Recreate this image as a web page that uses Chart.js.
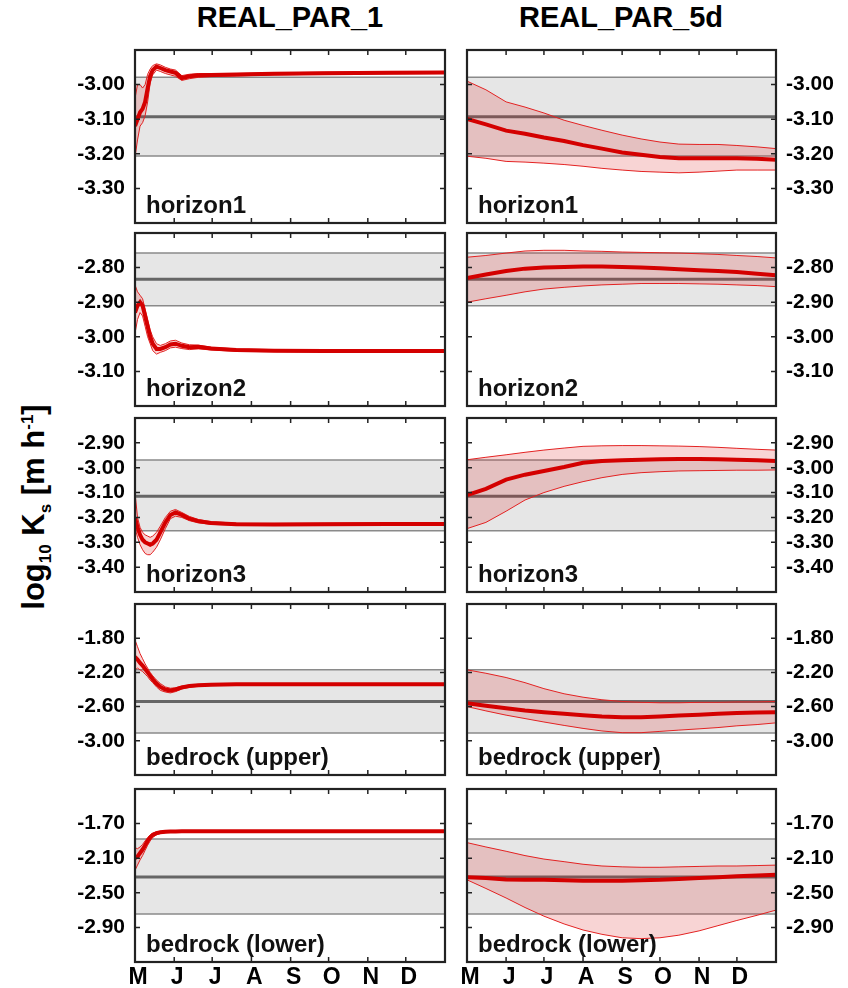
<!DOCTYPE html>
<html>
<head>
<meta charset="utf-8">
<script src="https://cdn.jsdelivr.net/npm/chart.js@4.4.1/dist/chart.umd.min.js"></script>
<style>
  body { margin:0; background:#fff; width:848px; height:988px; position:relative; overflow:hidden;
         font-family:"Liberation Sans", Arial, sans-serif; }
  canvas { position:absolute; }
  .coltitle { position:absolute; top:1px; font-weight:bold; font-size:29px; transform:translateX(-50%); white-space:nowrap; }
  #ylab { position:absolute; left:36px; top:507px; font-weight:bold; font-size:31px; white-space:nowrap;
          transform:translate(-50%,-50%) rotate(-90deg); }
  #ylab sub, #ylab sup { font-size:17px; }
</style>
</head>
<body>
<div class="coltitle" style="left:290px">REAL_PAR_1</div>
<div class="coltitle" style="left:621px">REAL_PAR_5d</div>
<div id="ylab">log<sub>10</sub> K<sub>s</sub> [m h<sup>-1</sup>]</div>
<script>
// x axis: days since 1 May
const months = ['M','J','J','A','S','O','N','D',''];
const monthStarts = [0,31,61,92,123,153,184,214,245];
const leftDays  = [0,2,4,6,8,10,12,14,17,20,24,28,32,37,43,50,60,80,110,150,200,245];
const rightDays = [0,15,31,46,61,77,92,107,123,138,153,168,184,199,214,230,245];

const panelNames = ['horizon1','horizon2','horizon3','bedrock (upper)','bedrock (lower)'];

// y ranges and tick values
const yRangeH1 = [-3.4,-2.9], yTicksH1 = [-3.3,-3.2,-3.1,-3.0];
const yRangeH2 = [-3.2,-2.7], yTicksH2 = [-3.1,-3.0,-2.9,-2.8];
const yRangeH3 = [-3.5,-2.8], yTicksH3 = [-3.4,-3.3,-3.2,-3.1,-3.0,-2.9];
const yRangeH4 = [-3.4,-1.4], yTicksH4 = [-3.0,-2.6,-2.2,-1.8];
const yRangeH5 = [-3.3,-1.3], yTicksH5 = [-2.9,-2.5,-2.1,-1.7];

// prior band: [low, centre, high]
const bandH1 = [-3.206,-3.093,-2.979];
const bandH2 = [-2.91,-2.834,-2.758];
const bandH3 = [-3.254,-3.115,-2.969];
const bandH4 = [-2.91,-2.54,-2.17];
const bandH5 = [-2.745,-2.317,-1.878];

// REAL_PAR_1
const h1LMean = [-3.12,-3.10,-3.08,-3.07,-3.05,-3.01,-2.975,-2.958,-2.948,-2.952,-2.958,-2.962,-2.966,-2.981,-2.976,-2.973,-2.972,-2.971,-2.969,-2.967,-2.966,-2.965];
const h1LHi   = [-3.04,-3.00,-3.00,-3.01,-3.00,-2.97,-2.955,-2.945,-2.940,-2.943,-2.950,-2.955,-2.958,-2.974,-2.970,-2.968,-2.968,-2.968,-2.966,-2.964,-2.963,-2.962];
const h1LLo   = [-3.21,-3.16,-3.12,-3.11,-3.09,-3.05,-2.995,-2.972,-2.958,-2.962,-2.968,-2.972,-2.976,-2.988,-2.983,-2.979,-2.977,-2.975,-2.972,-2.970,-2.969,-2.968];

const h2LMean = [-2.93,-2.91,-2.90,-2.91,-2.94,-2.97,-3.00,-3.02,-3.035,-3.035,-3.03,-3.022,-3.02,-3.026,-3.03,-3.029,-3.034,-3.038,-3.04,-3.041,-3.041,-3.041];
const h2LHi   = [-2.85,-2.87,-2.88,-2.89,-2.92,-2.95,-2.98,-3.00,-3.02,-3.025,-3.02,-3.012,-3.01,-3.018,-3.023,-3.024,-3.03,-3.035,-3.037,-3.038,-3.038,-3.038];
const h2LLo   = [-2.99,-2.95,-2.93,-2.94,-2.97,-3.00,-3.02,-3.04,-3.05,-3.045,-3.04,-3.032,-3.03,-3.034,-3.037,-3.035,-3.038,-3.042,-3.043,-3.044,-3.044,-3.044];

const h3LMean = [-3.20,-3.24,-3.27,-3.29,-3.30,-3.305,-3.31,-3.305,-3.29,-3.26,-3.22,-3.19,-3.18,-3.19,-3.205,-3.215,-3.222,-3.227,-3.228,-3.227,-3.226,-3.226];
const h3LHi   = [-3.10,-3.20,-3.24,-3.26,-3.27,-3.275,-3.28,-3.275,-3.26,-3.235,-3.20,-3.175,-3.168,-3.18,-3.196,-3.208,-3.217,-3.223,-3.224,-3.223,-3.222,-3.222];
const h3LLo   = [-3.24,-3.28,-3.31,-3.33,-3.345,-3.35,-3.35,-3.34,-3.32,-3.29,-3.245,-3.205,-3.195,-3.20,-3.213,-3.222,-3.228,-3.231,-3.232,-3.231,-3.23,-3.23];

const h4LMean = [-2.02,-2.05,-2.09,-2.12,-2.16,-2.20,-2.24,-2.28,-2.33,-2.37,-2.40,-2.41,-2.40,-2.375,-2.36,-2.35,-2.345,-2.34,-2.34,-2.34,-2.34,-2.34];
const h4LHi   = [-1.82,-1.90,-1.98,-2.04,-2.10,-2.15,-2.20,-2.24,-2.29,-2.33,-2.37,-2.385,-2.38,-2.36,-2.348,-2.34,-2.336,-2.332,-2.332,-2.332,-2.332,-2.332];
const h4LLo   = [-2.17,-2.15,-2.17,-2.19,-2.22,-2.25,-2.29,-2.32,-2.37,-2.41,-2.43,-2.44,-2.425,-2.395,-2.375,-2.362,-2.354,-2.348,-2.348,-2.348,-2.348,-2.348];

const h5LMean = [-2.10,-2.08,-2.04,-2.00,-1.95,-1.90,-1.86,-1.83,-1.81,-1.80,-1.795,-1.792,-1.79,-1.789,-1.789,-1.788,-1.788,-1.788,-1.788,-1.788,-1.788,-1.788];
const h5LHi   = [-1.98,-1.99,-1.97,-1.94,-1.90,-1.86,-1.83,-1.81,-1.795,-1.79,-1.787,-1.785,-1.784,-1.783,-1.783,-1.783,-1.783,-1.783,-1.783,-1.783,-1.783,-1.783];
const h5LLo   = [-2.24,-2.18,-2.12,-2.07,-2.01,-1.95,-1.90,-1.86,-1.83,-1.815,-1.805,-1.80,-1.797,-1.795,-1.795,-1.794,-1.794,-1.794,-1.794,-1.794,-1.794,-1.794];

// REAL_PAR_5d
const h1RMean = [-3.099,-3.115,-3.133,-3.142,-3.153,-3.163,-3.175,-3.185,-3.196,-3.203,-3.209,-3.213,-3.213,-3.213,-3.213,-3.214,-3.217];
const h1RHi   = [-2.99,-3.015,-3.05,-3.065,-3.082,-3.103,-3.118,-3.132,-3.146,-3.157,-3.166,-3.172,-3.173,-3.173,-3.176,-3.18,-3.185];
const h1RLo   = [-3.207,-3.213,-3.222,-3.224,-3.227,-3.231,-3.236,-3.242,-3.247,-3.251,-3.253,-3.255,-3.253,-3.25,-3.247,-3.247,-3.247];

const h2RMean = [-2.83,-2.82,-2.81,-2.803,-2.80,-2.798,-2.797,-2.797,-2.798,-2.80,-2.802,-2.805,-2.808,-2.81,-2.813,-2.818,-2.822];
const h2RHi   = [-2.77,-2.765,-2.758,-2.752,-2.75,-2.75,-2.752,-2.753,-2.755,-2.756,-2.757,-2.758,-2.76,-2.762,-2.765,-2.768,-2.772];
const h2RLo   = [-2.90,-2.89,-2.88,-2.87,-2.862,-2.857,-2.853,-2.85,-2.848,-2.846,-2.846,-2.846,-2.847,-2.848,-2.85,-2.852,-2.855];

const h3RMean = [-3.11,-3.085,-3.048,-3.028,-3.013,-2.997,-2.98,-2.973,-2.97,-2.968,-2.966,-2.965,-2.965,-2.966,-2.968,-2.97,-2.973];
const h3RHi   = [-2.968,-2.958,-2.948,-2.938,-2.929,-2.921,-2.914,-2.912,-2.911,-2.911,-2.912,-2.913,-2.915,-2.918,-2.922,-2.926,-2.929];
const h3RLo   = [-3.245,-3.22,-3.175,-3.13,-3.10,-3.075,-3.056,-3.04,-3.027,-3.02,-3.016,-3.013,-3.012,-3.011,-3.01,-3.01,-3.009];

const h4RMean = [-2.56,-2.59,-2.62,-2.645,-2.665,-2.685,-2.70,-2.715,-2.725,-2.725,-2.715,-2.705,-2.695,-2.685,-2.675,-2.67,-2.665];
const h4RHi   = [-2.17,-2.21,-2.26,-2.32,-2.39,-2.45,-2.49,-2.52,-2.54,-2.55,-2.555,-2.555,-2.55,-2.55,-2.545,-2.545,-2.54];
const h4RLo   = [-2.60,-2.65,-2.70,-2.74,-2.78,-2.82,-2.855,-2.885,-2.905,-2.905,-2.89,-2.875,-2.86,-2.845,-2.825,-2.81,-2.79];

const h5RMean = [-2.32,-2.33,-2.345,-2.35,-2.35,-2.355,-2.36,-2.36,-2.36,-2.355,-2.35,-2.34,-2.33,-2.32,-2.31,-2.30,-2.29];
const h5RHi   = [-1.92,-1.97,-2.02,-2.07,-2.11,-2.14,-2.17,-2.19,-2.20,-2.205,-2.205,-2.20,-2.195,-2.19,-2.19,-2.185,-2.18];
const h5RLo   = [-2.35,-2.45,-2.56,-2.67,-2.77,-2.86,-2.93,-2.98,-3.02,-3.03,-3.02,-2.99,-2.94,-2.88,-2.82,-2.76,-2.70];

// ---- layout ----
Chart.defaults.font.family = '"Liberation Sans", Arial, sans-serif';
Chart.defaults.color = '#000';

const panelTops    = [50, 233, 418, 604, 789];
const panelBottoms = [223, 406, 592, 775, 962];
const V_PAD = 30, X_AXIS_H = 40;
const LEFT  = { canvasLeft: 0,   width: 455, padL: 0,  padR: 10, yPos: 'left',  yWidth: 135, days: leftDays };
const RIGHT = { canvasLeft: 447, width: 401, padL: 20, padR: 0,  yPos: 'right', yWidth: 72,  days: rightDays };

const rows = [
  { range: yRangeH1, ticks: yTicksH1, band: bandH1, left: [h1LLo,h1LMean,h1LHi], right: [h1RLo,h1RMean,h1RHi] },
  { range: yRangeH2, ticks: yTicksH2, band: bandH2, left: [h2LLo,h2LMean,h2LHi], right: [h2RLo,h2RMean,h2RHi] },
  { range: yRangeH3, ticks: yTicksH3, band: bandH3, left: [h3LLo,h3LMean,h3LHi], right: [h3RLo,h3RMean,h3RHi] },
  { range: yRangeH4, ticks: yTicksH4, band: bandH4, left: [h4LLo,h4LMean,h4LHi], right: [h4RLo,h4RMean,h4RHi] },
  { range: yRangeH5, ticks: yTicksH5, band: bandH5, left: [h5LLo,h5LMean,h5LHi], right: [h5RLo,h5RMean,h5RHi] },
];

// frame, inward tick marks and the panel name
const panelDeco = {
  id: 'panelDeco',
  afterDraw(chart, args, opts) {
    const { ctx, chartArea: a, scales: { x, y } } = chart;
    ctx.save();
    ctx.strokeStyle = '#222';
    ctx.lineWidth = 1.5;
    ctx.beginPath();
    x.ticks.forEach(t => {
      const px = x.getPixelForValue(t.value);
      ctx.moveTo(px, a.top); ctx.lineTo(px, a.top + 5);
      ctx.moveTo(px, a.bottom); ctx.lineTo(px, a.bottom - 5);
    });
    y.ticks.forEach(t => {
      const py = y.getPixelForValue(t.value);
      ctx.moveTo(a.left, py); ctx.lineTo(a.left + 5, py);
      ctx.moveTo(a.right, py); ctx.lineTo(a.right - 5, py);
    });
    ctx.stroke();
    ctx.lineWidth = 2.2;
    ctx.strokeRect(a.left, a.top, a.right - a.left, a.bottom - a.top);
    ctx.font = 'bold 24px "Liberation Sans", Arial, sans-serif';
    ctx.fillStyle = '#111';
    ctx.textBaseline = 'alphabetic';
    ctx.fillText(opts.name, a.left + 11, a.bottom - 10);
    ctx.restore();
  }
};

function panelDatasets(days, series, band) {
  const pts = arr => arr.map((v, i) => ({ x: days[i], y: v }));
  const flat = v => [{ x: 0, y: v }, { x: 245, y: v }];
  const [lo, mean, hi] = series;
  return [
    { data: flat(band[0]), borderColor: '#8a8a8a', borderWidth: 1.5, order: 6 },
    { data: flat(band[2]), borderColor: '#8a8a8a', borderWidth: 1.5, backgroundColor: '#e6e6e6', fill: '-1', order: 6 },
    { data: flat(band[1]), borderColor: '#666', borderWidth: 3, order: 5 },
    { data: pts(lo), borderColor: '#e32222', borderWidth: 1, order: 3 },
    { data: pts(hi), borderColor: '#e32222', borderWidth: 1, backgroundColor: 'rgba(222,40,40,0.2)', fill: '-1', order: 3 },
    { data: pts(mean), borderColor: '#d40000', borderWidth: 4, order: 1 },
  ];
}

function makePanel(col, rowIdx, series) {
  const r = rows[rowIdx];
  const top = panelTops[rowIdx], bottom = panelBottoms[rowIdx];
  const last = rowIdx === rows.length - 1;
  const h = (bottom - top) + V_PAD + (last ? X_AXIS_H : V_PAD);
  const cv = document.createElement('canvas');
  cv.width = col.width; cv.height = h;
  cv.style.left = col.canvasLeft + 'px';
  cv.style.top = (top - V_PAD) + 'px';
  cv.style.width = col.width + 'px';
  cv.style.height = h + 'px';
  document.body.appendChild(cv);

  new Chart(cv, {
    type: 'line',
    data: { datasets: panelDatasets(col.days, series, r.band) },
    options: {
      responsive: false, animation: false, devicePixelRatio: 1,
      layout: { padding: { left: col.padL, right: col.padR, top: V_PAD, bottom: last ? 0 : V_PAD } },
      elements: { point: { radius: 0 }, line: { tension: 0 } },
      plugins: { legend: { display: false }, tooltip: { enabled: false }, panelDeco: { name: panelNames[rowIdx] } },
      scales: {
        x: {
          type: 'linear', min: 0, max: 245,
          grid: { display: false, drawTicks: false }, border: { display: false },
          ticks: { display: last, padding: 2, labelOffset: 3, autoSkip: false, maxRotation: 0,
                   font: { size: 23, weight: 'bold' }, callback: (v, i) => months[i] },
          afterBuildTicks: s => { s.ticks = monthStarts.map(v => ({ value: v })); },
          afterFit: s => { s.height = last ? X_AXIS_H : 0; }
        },
        y: {
          type: 'linear', position: col.yPos, min: r.range[0], max: r.range[1],
          grid: { display: false, drawTicks: false }, border: { display: false },
          ticks: { padding: 10, font: { size: 21, weight: 'bold' }, callback: v => v.toFixed(2) },
          afterBuildTicks: s => { s.ticks = r.ticks.map(v => ({ value: v })); },
          afterFit: s => { s.width = col.yWidth; }
        }
      }
    },
    plugins: [panelDeco]
  });
}

rows.forEach((r, i) => {
  makePanel(LEFT, i, r.left);
  makePanel(RIGHT, i, r.right);
});
</script>
</body>
</html>
